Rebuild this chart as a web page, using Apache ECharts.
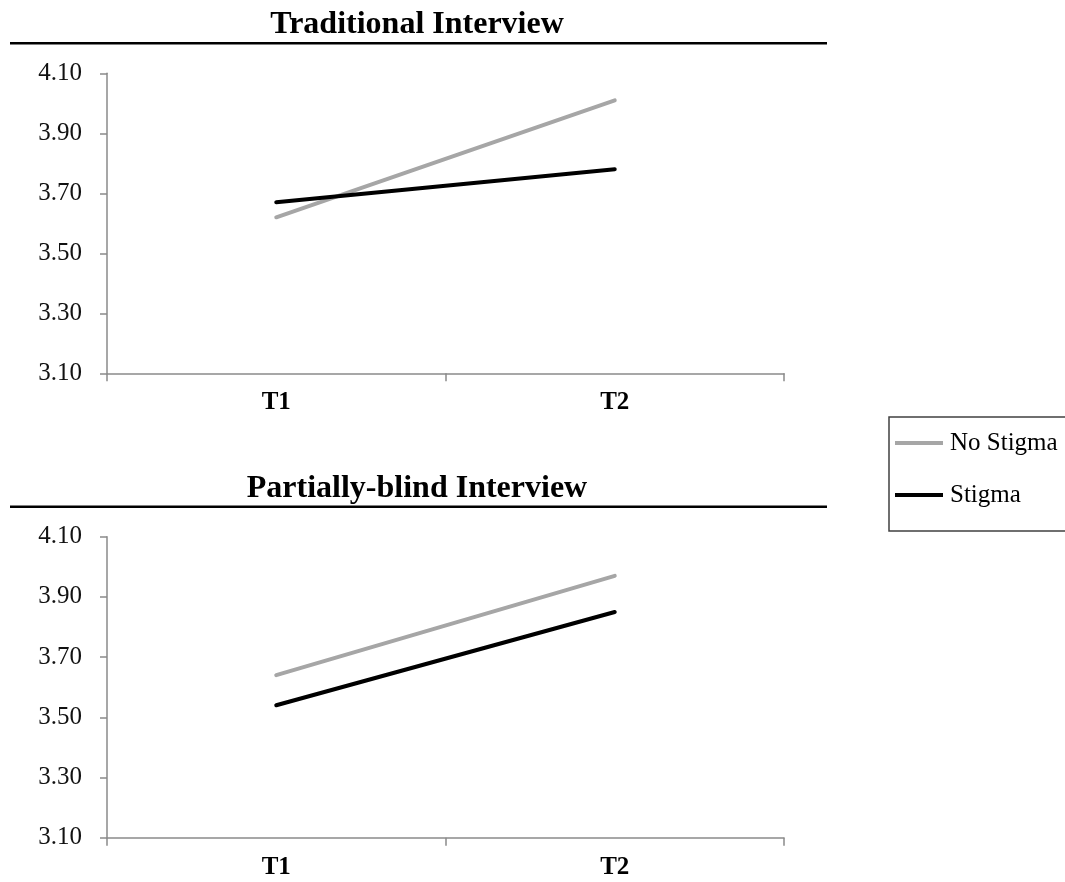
<!DOCTYPE html>
<html>
<head>
<meta charset="utf-8">
<script src="https://cdn.jsdelivr.net/npm/echarts@6/dist/echarts.min.js"></script>
<style>
html,body{margin:0;padding:0;background:#fff;}
#chart{width:1065px;height:882px;}
</style>
</head>
<body>
<div id="chart"></div>
<script>
// ---- data ----
var categories = ['T1', 'T2'];
var seriesNames = ['No Stigma', 'Stigma'];
var panelTitles = ['Traditional Interview', 'Partially-blind Interview'];
var traditionalNoStigma = [3.62, 4.01];
var traditionalStigma = [3.67, 3.78];
var blindNoStigma = [3.64, 3.97];
var blindStigma = [3.54, 3.85];
var yMin = 3.1, yMax = 4.1, yStep = 0.2;

var FONT = "'Liberation Serif', 'Times New Roman', serif";
var AXIS_GRAY = '#8a8a8a';
var SERIES_COLORS = ['#a6a6a6', '#000000'];

var chart = echarts.init(document.getElementById('chart'));

function xAxisFor(idx) {
  return {
    type: 'category', gridIndex: idx, data: categories, boundaryGap: true,
    axisLine: { lineStyle: { color: AXIS_GRAY, width: 1.5 } },
    axisTick: { show: true, length: 8, lineStyle: { color: AXIS_GRAY, width: 1.5 } },
    axisLabel: { fontFamily: FONT, fontSize: 25, fontWeight: 'bold', color: '#000', margin: 17 },
    splitLine: { show: false }
  };
}
function yAxisFor(idx) {
  return {
    type: 'value', gridIndex: idx, min: yMin, max: yMax, interval: yStep,
    axisLine: { show: true, lineStyle: { color: AXIS_GRAY, width: 1.5 } },
    axisTick: { show: true, length: 7, lineStyle: { color: AXIS_GRAY, width: 1.5 } },
    axisLabel: { fontFamily: FONT, fontSize: 25, color: '#111', margin: 25,
      formatter: function (v) { return v.toFixed(2); } },
    splitLine: { show: false }
  };
}
function lineSeries(name, data, idx, color) {
  return {
    type: 'line', name: name, data: data, xAxisIndex: idx, yAxisIndex: idx,
    symbol: 'none', smooth: false, silent: true,
    lineStyle: { color: color, width: 4, cap: 'round' },
    itemStyle: { color: color }
  };
}

var option = {
  backgroundColor: '#fff',
  animation: false,
  title: [
    { text: panelTitles[0], left: 417, top: 25, textAlign: 'center', textVerticalAlign: 'middle', padding: 0,
      textStyle: { fontFamily: FONT, fontSize: 32, fontWeight: 'bold', color: '#000' } },
    { text: panelTitles[1], left: 417, top: 489, textAlign: 'center', textVerticalAlign: 'middle', padding: 0,
      textStyle: { fontFamily: FONT, fontSize: 32, fontWeight: 'bold', color: '#000' } }
  ],
  grid: [
    { left: 107, top: 73.3, width: 677, height: 300, containLabel: false },
    { left: 107, top: 536.7, width: 677, height: 301, containLabel: false }
  ],
  xAxis: [xAxisFor(0), xAxisFor(1)],
  yAxis: [yAxisFor(0), yAxisFor(1)],
  legend: {
    data: seriesNames, orient: 'vertical', left: 889, top: 417,
    icon: 'rect', itemWidth: 48, itemHeight: 4, itemGap: 26,
    padding: [13, 40, 23, 6],
    borderColor: '#404040', borderWidth: 1.5, backgroundColor: '#fff',
    selectedMode: false,
    textStyle: { fontFamily: FONT, fontSize: 25, color: '#000', lineHeight: 26, padding: [0, 0, 0, 2] }
  },
  graphic: [
    { type: 'line', silent: true, shape: { x1: 10, y1: 43.3, x2: 827, y2: 43.3 }, style: { stroke: '#000', lineWidth: 2.5 } },
    { type: 'line', silent: true, shape: { x1: 10, y1: 506.7, x2: 827, y2: 506.7 }, style: { stroke: '#000', lineWidth: 2.5 } }
  ],
  series: [
    lineSeries(seriesNames[0], traditionalNoStigma, 0, SERIES_COLORS[0]),
    lineSeries(seriesNames[1], traditionalStigma, 0, SERIES_COLORS[1]),
    lineSeries(seriesNames[0], blindNoStigma, 1, SERIES_COLORS[0]),
    lineSeries(seriesNames[1], blindStigma, 1, SERIES_COLORS[1])
  ]
};
chart.setOption(option);
</script>
</body>
</html>
